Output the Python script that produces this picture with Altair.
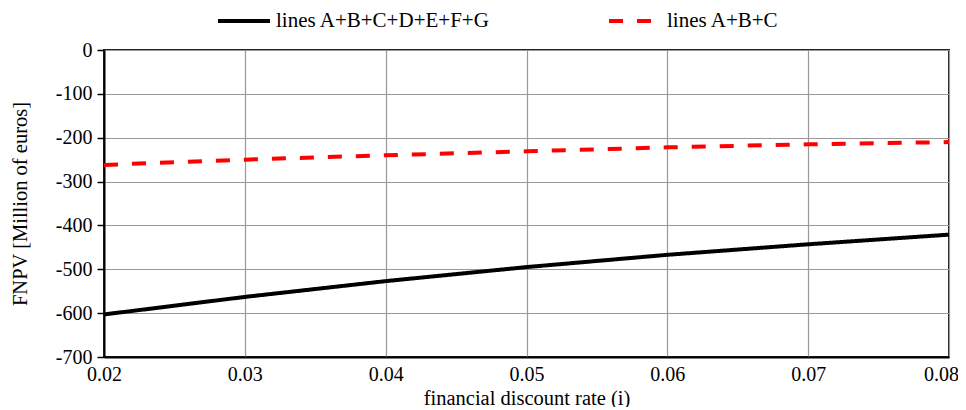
import altair as alt
import pandas as pd

rates = [0.02, 0.03, 0.04, 0.05, 0.06, 0.07, 0.08]
fnpv_all = [-603, -563, -527, -495, -467, -443, -421]
fnpv_abc = [-262, -250, -240, -231, -222, -215, -210]
series_names = ["lines A+B+C+D+E+F+G", "lines A+B+C"]
series_colors = ["#000000", "#ff0000"]
y_ticks = [0, -100, -200, -300, -400, -500, -600, -700]

rows = []
for r, v in zip(rates, fnpv_all):
    rows.append({"rate": r, "fnpv": v, "series": series_names[0]})
for r, v in zip(rates, fnpv_abc):
    rows.append({"rate": r, "fnpv": v, "series": series_names[1]})
df = pd.DataFrame(rows)

FONT = "Liberation Serif"

chart = alt.Chart(df).mark_line(strokeWidth=4, strokeCap="butt").encode(
    x=alt.X("rate:Q",
            scale=alt.Scale(domain=[0.02, 0.08], nice=False, zero=False),
            axis=alt.Axis(title="financial discount rate (i)", values=rates,
                          format=".2f", tickSize=0, labelPadding=7,
                          labelFlush=False, labelOverlap=False,
                          labelOffset={"condition": {"test": "datum.value > 0.079", "value": -8},
                                       "value": 0},
                          titlePadding=4)),
    y=alt.Y("fnpv:Q",
            scale=alt.Scale(domain=[-700, 0], nice=False),
            axis=alt.Axis(title="FNPV [Million of euros]", values=y_ticks,
                          labelExpr="datum.value < 0 ? '-' + abs(datum.value) : '' + datum.value",
                          labelOverlap=False, labelFlush=False,
                          tickSize=7, labelPadding=5, titlePadding=25)),
    color=alt.Color("series:N",
                    scale=alt.Scale(domain=series_names, range=series_colors),
                    legend=alt.Legend(title=None, orient="none", direction="horizontal",
                                      legendX=112, legendY=-57,
                                      symbolType="stroke", symbolSize=2700,
                                      symbolStrokeWidth=4, columnPadding=111,
                                      labelFontSize=21, labelFont=FONT,
                                      labelColor="#000", labelLimit=400, labelOffset=4)),
    strokeDash=alt.StrokeDash("series:N",
                              scale=alt.Scale(domain=series_names, range=[[1, 0], [14, 14]]),
                              legend=None),
).properties(
    width=845, height=307,
    padding={"left": 96, "top": 42, "right": 9, "bottom": 50},
    autosize=alt.AutoSizeParams(type="none"),
).configure_axis(
    labelFont=FONT, titleFont=FONT, labelFontSize=20, titleFontSize=20.5,
    labelColor="#000", titleColor="#000", titleFontWeight="normal",
    gridColor="#999999", gridWidth=1.2, domainColor="#000", domainWidth=2,
    tickColor="#000", tickWidth=1.5,
).configure_view(stroke="#222", strokeWidth=2)

chart.save("out.html", embed_options={"renderer": "svg", "actions": False})
